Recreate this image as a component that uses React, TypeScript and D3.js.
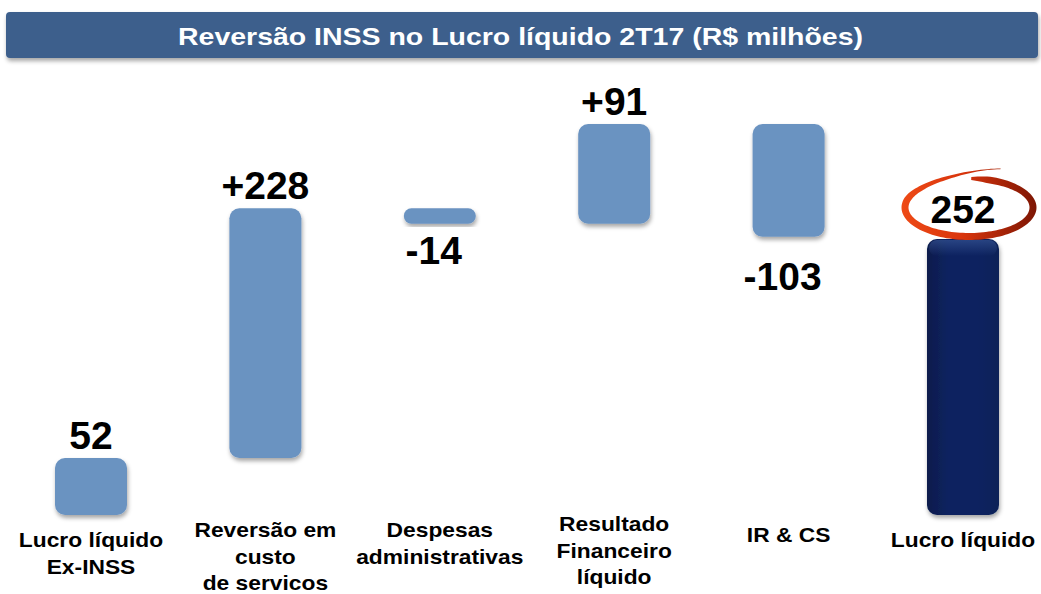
import React from 'react';
import * as d3 from 'd3';

// waterfall: Reversão INSS no Lucro líquido 2T17
const categories = [
  ['Lucro líquido', 'Ex-INSS'],
  ['Reversão em', 'custo', 'de servicos'],
  ['Despesas', 'administrativas'],
  ['Resultado', 'Financeiro', 'líquido'],
  ['IR & CS'],
  ['Lucro líquido'],
];
const deltas = [52, 228, -14, 91, -103, 252];
const valueLabels = ['52', '+228', '-14', '+91', '-103', '252'];
const kinds = ['start', 'step', 'step', 'step', 'step', 'total'];

// layout only
const labelBaseline = [547, 537, 537, 531, 542, 547];
const negLabelDy = [0, 0, 40, 0, 53, 0];

const W = 1041;
const H = 594;
const FONT = '"Liberation Sans", Arial, Helvetica, sans-serif';

export default function App() {
  // running totals
  let run = 0;
  const bars = deltas.map((d, i) => {
    let y0, y1;
    if (kinds[i] === 'total') {
      y0 = 0;
      y1 = d;
      run = d;
    } else {
      y0 = run;
      y1 = run + d;
      run = y1;
    }
    return { i, d, lo: Math.min(y0, y1), hi: Math.max(y0, y1) };
  });

  const x = d3.scalePoint<number>().domain(d3.range(deltas.length)).range([91, 963]);
  const y = d3.scaleLinear().domain([0, 357]).range([515, 124]);
  const bw = 72;

  // hand-drawn ring around the total
  const cx = 969, cy = 207.5;
  const ringPts = d3.range(0, 1.0001, 1 / 140).map(t => {
    const a = (-88 + t * 384) * Math.PI / 180;
    const grow = t > 0.8 ? (t - 0.8) / 0.2 : 0;
    const rx = 64 + grow * 8;
    const ry = 29 + grow * grow * 14;
    let w = 7;
    if (t < 0.04) w = 3 + (t / 0.04) * 4;
    if (t > 0.75) w = 7 * Math.max(0.12, 1 - (t - 0.75) / 0.25);
    return { a, rx, ry, w };
  });
  const outer = ringPts.map(p => [cx + (p.rx + p.w / 2) * Math.cos(p.a), cy + (p.ry + p.w / 2) * Math.sin(p.a)] as [number, number]);
  const inner = ringPts.map(p => [cx + (p.rx - p.w / 2) * Math.cos(p.a), cy + (p.ry - p.w / 2) * Math.sin(p.a)] as [number, number]).reverse();
  const ringPath = d3.line().curve(d3.curveLinearClosed)([...outer, ...inner]) || '';

  return (
    <div style={{ position: 'absolute', left: 0, top: 0 }}>
      <svg width={W} height={H} style={{ display: 'block', fontFamily: FONT }}>
        <defs>
          <filter id="sh" x="-20%" y="-20%" width="140%" height="140%">
            <feDropShadow dx="1" dy="3" stdDeviation="2" floodColor="#000" floodOpacity="0.35" />
          </filter>
          <linearGradient id="navy" x1="0" x2="1" y1="0" y2="0">
            <stop offset="0" stopColor="#071a4c" />
            <stop offset="0.3" stopColor="#0b2460" />
            <stop offset="0.7" stopColor="#0b2460" />
            <stop offset="1" stopColor="#0a2258" />
          </linearGradient>
          <linearGradient id="navyTop" x1="0" x2="0" y1="0" y2="1">
            <stop offset="0" stopColor="#3a5a9a" stopOpacity="0.6" />
            <stop offset="1" stopColor="#3a5a9a" stopOpacity="0" />
          </linearGradient>
          <linearGradient id="ring" x1="0" x2="1" y1="0" y2="0">
            <stop offset="0" stopColor="#ee4a16" />
            <stop offset="0.45" stopColor="#d9350c" />
            <stop offset="1" stopColor="#7d1604" />
          </linearGradient>
        </defs>

        {/* title bar */}
        <rect x={6} y={12} width={1032} height={46} rx={4} fill="#3e5f8c" filter="url(#sh)" />
        <text x={520.5} y={45} textAnchor="middle" fill="#fff" fontWeight="bold" fontSize={24}
          textLength={685} lengthAdjust="spacingAndGlyphs">
          Reversão INSS no Lucro líquido 2T17 (R$ milhões)
        </text>

        {/* bars */}
        {bars.map(b => {
          const cxb = x(b.i) as number;
          const top = y(b.hi);
          const h = y(b.lo) - y(b.hi);
          const isTotal = kinds[b.i] === 'total';
          return (
            <g key={b.i}>
              <rect x={cxb - bw / 2} y={top} width={bw} height={h} rx={Math.min(10, h / 2)}
                fill={isTotal ? 'url(#navy)' : '#6b93c1'} filter="url(#sh)" />
              {isTotal && (
                <rect x={cxb - bw / 2 + 2} y={top + 1} width={bw - 4} height={16} rx={8} fill="url(#navyTop)" />
              )}
            </g>
          );
        })}

        {/* ring around total */}
        <path d={ringPath} fill="url(#ring)" />

        {/* value labels */}
        {bars.map(b => {
          const cxb = x(b.i) as number;
          const neg = b.d < 0;
          let ly = neg ? y(b.lo) + negLabelDy[b.i] : y(b.hi) - 9;
          if (kinds[b.i] === 'total') ly = cy + 15;
          return (
            <text key={b.i} x={cxb + (neg ? -6 : 0)} y={ly} textAnchor="middle" fontWeight="bold" fontSize={39} fill="#000">
              {valueLabels[b.i]}
            </text>
          );
        })}

        {/* category labels */}
        {categories.map((lines, i) => {
          const cxb = x(i) as number;
          const lh = 26.7;
          return (
            <g key={i} transform={`translate(${cxb},0) scale(1.14,1)`}>
              <text x={0} textAnchor="middle" fontWeight="bold" fontSize={20} fill="#000">
                {lines.map((l, j) => (
                  <tspan key={j} x={0} y={labelBaseline[i] + j * lh}>{l}</tspan>
                ))}
              </text>
            </g>
          );
        })}
      </svg>
    </div>
  );
}
